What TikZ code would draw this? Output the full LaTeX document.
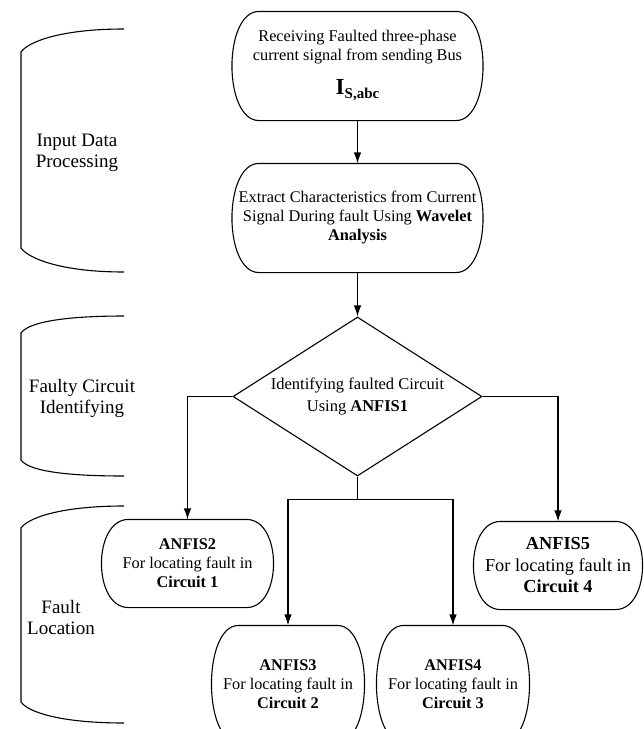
\documentclass[tikz,border=0pt]{standalone}
\usepackage{fontspec}
\setmainfont{Liberation Serif}
\usetikzlibrary{arrows.meta,shapes.geometric}
\newcommand{\termoutline}[1]{%
  \draw ([xshift=27pt]#1.north west) -- ([xshift=-27pt]#1.north east)
    .. controls +(36pt,0pt) and +(36pt,0pt) .. ([xshift=-27pt]#1.south east)
    -- ([xshift=27pt]#1.south west)
    .. controls +(-36pt,0pt) and +(-36pt,0pt) .. cycle;}

\begin{document}
\begin{tikzpicture}[x=1pt,y=-1pt,line width=1.1pt,
    every node/.style={align=center,inner sep=0pt},
    boxtext/.style={font=\fontsize{16.3}{19}\selectfont},
    arr/.style={-{Latex[length=11pt,width=7.5pt]}},
    sidelbl/.style={font=\fontsize{19}{21}\selectfont}]
  \useasboundingbox (0,0) rectangle (644,729);
  \foreach \ya/\yb/\yc/\yd in {29/52/248/272,316/333/460/476,506/528/702/723}
    \draw (124,\ya) .. controls (60,\ya) and (28,\yb-10) .. (21,\yb) -- (21,\yc)
      .. controls (28,\yc+10) and (60,\yd) .. (124,\yd);
  \node[sidelbl] (inlbl) at (77,153) {Input Data\\Processing};
  \node[sidelbl] (idlbl) at (82,398) {Faulty Circuit\\Identifying};
  \node[sidelbl] (loclbl) at (61,617) {Fault\\Location};
  \node[boxtext,minimum width=250pt,minimum height=108pt] (recv) at (357.5,66)
    {Receiving Faulted three-phase\\current signal from sending Bus\\[15pt]
     {\fontsize{23}{23}\selectfont\textbf{I}}\raisebox{-4pt}{\fontsize{15}{15}\selectfont\textbf{S,abc}}};
  \node[boxtext,minimum width=250pt,minimum height=108pt] (extract) at (357.5,218)
    {Extract Characteristics from Current\\Signal During fault Using \textbf{Wavelet}\\\textbf{Analysis}};
  \node[draw,diamond,aspect=1.57,minimum width=249pt,minimum height=159pt,
    font=\fontsize{16.5}{22}\selectfont] (diam) at (357.5,396.5)
    {Identifying faulted Circuit\\Using \textbf{ANFIS1}};
  \node[boxtext,minimum width=171pt,minimum height=87pt] (anfisb) at (187.5,563.5)
    {\textbf{ANFIS2}\\For locating fault in\\\textbf{Circuit 1}};
  \node[boxtext,minimum width=152pt,minimum height=116pt] (anfisc) at (288,684)
    {\textbf{ANFIS3}\\For locating fault in\\\textbf{Circuit 2}};
  \node[boxtext,minimum width=152pt,minimum height=116pt] (anfisd) at (453,684)
    {\textbf{ANFIS4}\\For locating fault in\\\textbf{Circuit 3}};
  \node[font=\fontsize{18.3}{21.5}\selectfont,minimum width=168pt,minimum height=87pt] (anfise) at (558,565.5)
    {\textbf{ANFIS5}\\For locating fault in\\\textbf{Circuit 4}};
  \foreach \n in {recv,extract,anfisb,anfisc,anfisd,anfise}
    \termoutline{\n};
  \coordinate (split) at ([yshift=-23pt]diam.south);
  \draw[arr] (recv) -- (extract);
  \draw[arr] (extract) -- (diam.north);
  \draw[arr] (diam.west) -| (anfisb.north);
  \draw[arr] (diam.east) -| (anfise.north);
  \draw (diam.south) -- (split);
  \draw[arr] (split) -| (anfisc.north);
  \draw[arr] (split) -| (anfisd.north);
\end{tikzpicture}
\end{document}
